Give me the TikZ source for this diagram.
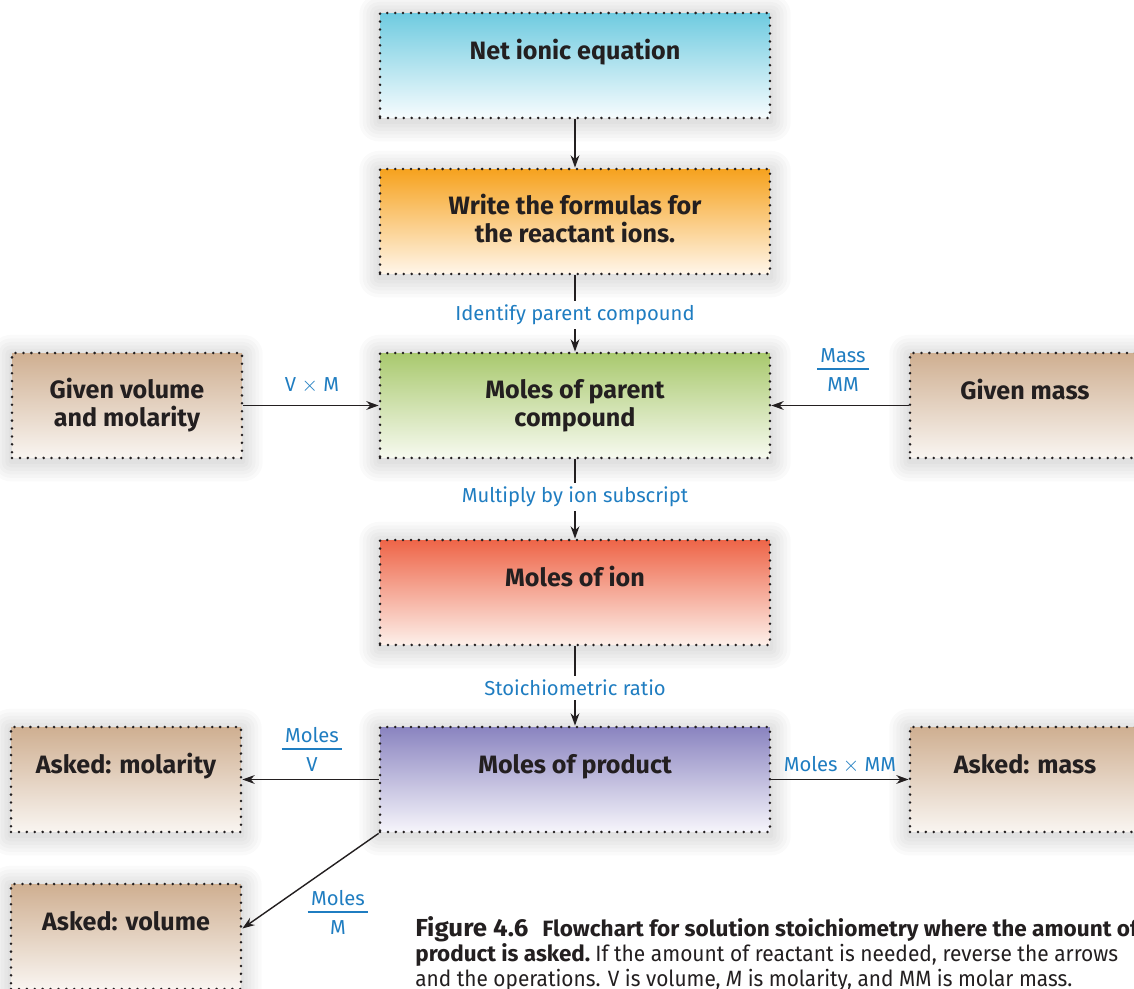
\documentclass[tikz,border=0pt]{standalone}
\usepackage{fontspec}
\usepackage{graphicx}
\setmainfont{Fira Sans}
\usetikzlibrary{arrows.meta,backgrounds}
\definecolor{txt}{HTML}{231F20}
\definecolor{lblc}{HTML}{1F7DC1}
\definecolor{cblue}{HTML}{6FCBE0}
\definecolor{cblueb}{HTML}{F7FCFE}
\definecolor{corange}{HTML}{F6A21E}
\definecolor{corangeb}{HTML}{FFF6EA}
\definecolor{cgreen}{HTML}{A9C96E}
\definecolor{cgreenb}{HTML}{F7FAF0}
\definecolor{cred}{HTML}{EE6548}
\definecolor{credb}{HTML}{FDF0EA}
\definecolor{cpurple}{HTML}{8A84C0}
\definecolor{cpurpleb}{HTML}{F6F5FB}
\definecolor{ctan}{HTML}{CFAF91}
\definecolor{ctanb}{HTML}{F9F5F1}
\newcommand\myfrac[2]{{\setlength\arrayrulewidth{1.2pt}\renewcommand\arraystretch{1.0}\begin{tabular}{@{\,}c@{\,}}#1\\[-1pt]\hline\rule{0pt}{12pt}#2\end{tabular}}}
\newcommand\fitw[2]{\resizebox{#1}{\height}{#2}}
\newcommand\softshadow[1]{%
  \foreach \s in {1,3,5,7,9,11}{%
    \fill[black, opacity=0.018, rounded corners=\s pt]
      ([shift={(-\s pt,-\s pt-1.5pt)}]#1.south west) rectangle ([shift={(\s pt,\s pt-1.5pt)}]#1.north east);
  }}
\tikzset{
  box/.style={rectangle, inner sep=0pt, minimum height=2.1cm,
    draw=txt, line width=1.6pt, dash pattern=on 0pt off 4.5pt, line cap=round},
  midbox/.style={box, minimum width=7.8cm},
  sidebox/.style={box, minimum width=4.6cm, top color=ctan, bottom color=ctanb},
  boxtext/.style={font=\fontsize{14.3}{15.9}\selectfont\bfseries, text=txt, align=center, anchor=base, inner sep=0pt},
  lbl/.style={font=\fontsize{11.5}{14}\selectfont, text=lblc, fill=white, inner sep=2pt},
  fraclbl/.style={font=\fontsize{11.5}{14}\selectfont, text=lblc, inner sep=0pt},
  conn/.style={draw=txt, line width=0.8pt, -{Stealth[length=7pt,width=5pt]}},
  capline/.style={font=\fontsize{12.6}{14}\selectfont, text=txt, anchor=base west, inner sep=0pt}
}
\begin{document}
\begin{tikzpicture}[x=0.02cm, y=-0.02cm]
\useasboundingbox (0,0) rectangle (1134,989);
\clip (0,0) rectangle (1134,989);

% middle column
\node[midbox, top color=cblue, bottom color=cblueb] (net) at (575,65.5) {};
\node[midbox, top color=corange, bottom color=corangeb] (write) at (575,221.5) {};
\node[midbox, top color=cgreen, bottom color=cgreenb] (parent) at (575,405.5) {};
\node[midbox, top color=cred, bottom color=credb] (ion) at (575,592.5) {};
\node[midbox, top color=cpurple, bottom color=cpurpleb] (product) at (575,779.5) {};
% side boxes
\node[sidebox] (gvol) at (127,405.5) {};
\node[sidebox] (gmass) at (1025,405.5) {};
\node[sidebox] (amol) at (126,779.5) {};
\node[sidebox] (amass) at (1025,779.5) {};
\node[sidebox] (avol) at (126,936.5) {};

\begin{scope}[on background layer]
\fill[white] (0,0) rectangle (1134,989);
\softshadow{net}\softshadow{write}\softshadow{parent}\softshadow{ion}\softshadow{product}
\softshadow{gvol}\softshadow{gmass}\softshadow{amol}\softshadow{amass}\softshadow{avol}
\end{scope}

% box texts (base anchor = last line's baseline)
\node[boxtext] (netT) at ([yshift=-0.96cm]net.north) {Net ionic equation};
\node[boxtext] (writeT) at ([yshift=-1.50cm]write.north) {Write the formulas for\\the reactant ions.};
\node[boxtext] (parentT) at ([yshift=-1.50cm]parent.north) {Moles of parent\\compound};
\node[boxtext] (ionT) at ([yshift=-0.96cm]ion.north) {Moles of ion};
\node[boxtext] (productT) at ([yshift=-0.96cm]product.north) {Moles of product};
\node[boxtext] (gvolT) at ([yshift=-1.50cm]gvol.north) {Given volume\\and molarity};
\node[boxtext] (gmassT) at ([yshift=-0.96cm]gmass.north) {Given mass};
\node[boxtext] (amolT) at ([yshift=-0.96cm]amol.north) {Asked: molarity};
\node[boxtext] (amassT) at ([yshift=-0.96cm]amass.north) {Asked: mass};
\node[boxtext] (avolT) at ([yshift=-0.96cm]avol.north) {Asked: volume};

% connectors
\draw[conn] (net) -- (write);
\draw[conn] (write) -- (parent);
\draw[conn] (parent) -- (ion);
\draw[conn] (ion) -- (product);
\draw[conn] (gvol) -- (parent);
\draw[conn] (gmass) -- (parent);
\draw[conn] (product) -- (amol);
\draw[conn] (product) -- (amass);
\draw[conn] (product.south west) -- ([yshift=0.16cm]avol.east);

% labels
\node[lbl] (l1) at (575,315) {Identify parent compound};
\node[lbl] (l2) at (575,497) {Multiply by ion subscript};
\node[lbl] (l3) at (575,688) {Stoichiometric ratio};
\node[fraclbl] (l4) at (312,385) {V $\times$ M};
\node[fraclbl] (l5) at (843,372) {\myfrac{Mass}{MM}};
\node[fraclbl] (l6) at (312,752) {\myfrac{Moles}{V}};
\node[fraclbl] (l7) at (840,765) {Moles $\times$ MM};
\node[fraclbl] (l8) at (338,915) {\myfrac{Moles}{M}};

% caption
\node[capline] (c1a) at (415,937) {\fitw{2.26cm}{\bfseries\fontsize{14}{14}\selectfont Figure 4.6}};
\node[capline] (c1b) at (542,937) {\fitw{11.92cm}{\bfseries\fontsize{12.6}{14}\selectfont Flowchart for solution stoichiometry where the amount of}};
\node[capline] (c2a) at (415,962) {\fitw{3.5cm}{\bfseries\fontsize{12.6}{14}\selectfont product is asked.}};
\node[capline] (c2b) at (595,962) {\fitw{10.46cm}{If the amount of reactant is needed, reverse the arrows}};
\node[capline] (c3) at (415,987) {\fitw{13.14cm}{and the operations. V is volume, \textit{M} is molarity, and MM is molar mass.}};
\end{tikzpicture}
\end{document}
